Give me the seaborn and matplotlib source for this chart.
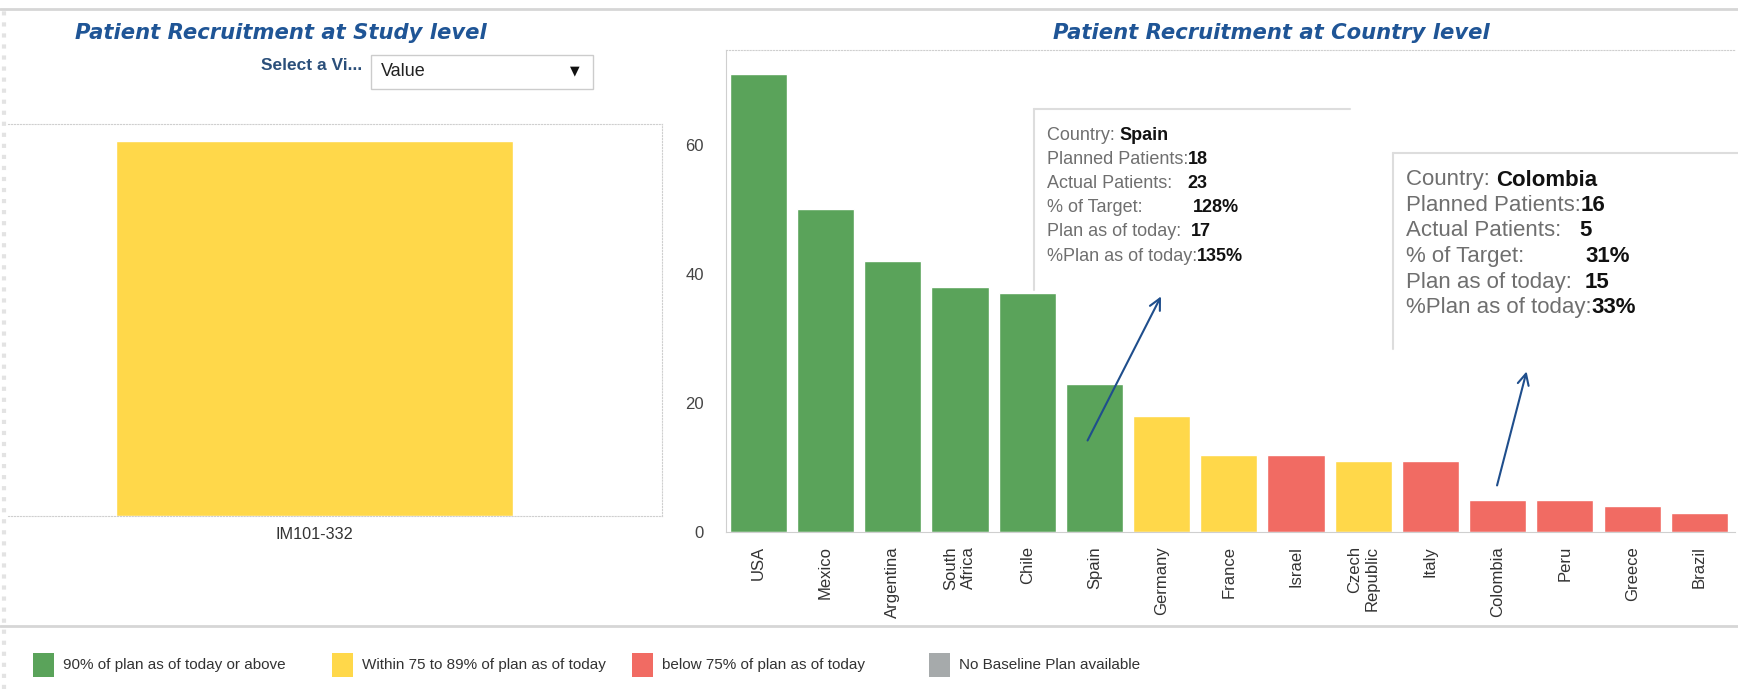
import matplotlib
matplotlib.use("Agg")
import matplotlib.pyplot as plt
from matplotlib.patches import Rectangle
from matplotlib.lines import Line2D
import seaborn as sns
import pandas as pd

# data
study_ids = ['IM101-332']
study_patients = [342]

countries = ['USA', 'Mexico', 'Argentina', 'South\nAfrica', 'Chile', 'Spain', 'Germany', 'France',
             'Israel', 'Czech\nRepublic', 'Italy', 'Colombia', 'Peru', 'Greece', 'Brazil']
actual_patients = [71, 50, 42, 38, 37, 23, 18, 12, 12, 11, 11, 5, 5, 4, 3]
country_status = [0, 0, 0, 0, 0, 0, 1, 1, 2, 1, 2, 2, 2, 2, 2]

legend_labels = ['90% of plan as of today or above', 'Within 75 to 89% of plan as of today',
                 'below 75% of plan as of today', 'No Baseline Plan available']
legend_colors = ['#5aa35a', '#ffd84a', '#f16b63', '#a6aaab']

tip_labels = ['Country: ', 'Planned Patients:', 'Actual Patients:   ', '% of Target:          ',
              'Plan as of today:  ', '%Plan as of today:']
spain_values = ['Spain', '18', '23', '128%', '17', '135%']
colombia_values = ['Colombia', '16', '5', '31%', '15', '33%']

W, H = 1738, 689
title_color = '#1f5596'
grid_grey = '#cfcfcf'


def px(x, y):
    return x / W, 1 - y / H


sns.set_style('white')
plt.rcParams['font.family'] = ['Liberation Sans', 'DejaVu Sans']

fig = plt.figure(figsize=(W / 100, H / 100), dpi=100)

# left panel: study level
ax1 = fig.add_axes([8 / W, 1 - 516 / H, 654 / W, 392 / H])
sns.barplot(x=study_ids, y=study_patients, color=legend_colors[1], width=0.607,
            saturation=1, ax=ax1)
ax1.set_xlim(-0.468, 0.532)
ax1.set_ylim(0, 357.5)
ax1.set_yticks([])
ax1.set_xlabel('')
ax1.set_ylabel('')
ax1.tick_params(axis='x', length=0, labelsize=11.7, colors='#333333', pad=8)
ax1.spines['left'].set_visible(False)
for s in ['top', 'bottom', 'right']:
    ax1.spines[s].set_linestyle(':')
    ax1.spines[s].set_color(grid_grey)

# right panel: country level
df = pd.DataFrame({'country': countries, 'actual': actual_patients,
                   'status': [legend_labels[i] for i in country_status]})
ax2 = fig.add_axes([726 / W, 1 - 532 / H, 1009 / W, 482 / H])
sns.barplot(data=df, x='country', y='actual', hue='status', order=countries,
            hue_order=legend_labels, palette=dict(zip(legend_labels, legend_colors)),
            dodge=False, width=0.85, saturation=1, legend=False, ax=ax2)
ax2.set_xlim(-0.48, 14.53)
ax2.set_ylim(0, 74.7)
ax2.set_yticks([0, 20, 40, 60])
ax2.set_xlabel('')
ax2.set_ylabel('')
ax2.set_xticks([i + 0.5 for i in range(len(countries) - 1)], minor=True)
ax2.tick_params(axis='x', which='major', length=0, pad=10)
ax2.tick_params(axis='x', which='minor', length=6, color=grid_grey, width=1)
ax2.tick_params(axis='y', length=6, color=grid_grey, labelsize=12, labelcolor='#444444', pad=10)
for lab in ax2.get_xticklabels():
    lab.set_rotation(90)
    lab.set_fontsize(12)
    lab.set_color('#333333')
    lab.set_va('top')
    lab.set_ha('center')
    lab.set_multialignment('right')
ax2.spines['right'].set_visible(False)
ax2.spines['top'].set_linestyle(':')
ax2.spines['top'].set_color(grid_grey)
ax2.spines['left'].set_color(grid_grey)
ax2.spines['bottom'].set_color(grid_grey)

# titles and the view selector
fig.text(*px(75, 33), 'Patient Recruitment at Study level', fontsize=15.2, fontweight='bold',
         fontstyle='italic', family='DejaVu Sans', color=title_color, va='center')
fig.text(*px(1271, 33), 'Patient Recruitment at Country level', fontsize=15.2, fontweight='bold',
         fontstyle='italic', family='DejaVu Sans', color=title_color, va='center', ha='center')
fig.text(*px(362, 66), 'Select a Vi...', fontsize=12.5, fontweight='bold', color='#2b4f7a',
         ha='right', va='center')
fig.add_artist(Rectangle(px(371, 89), 222 / W, 34 / H, transform=fig.transFigure,
                         facecolor='white', edgecolor='#cccccc', lw=1))
fig.text(*px(381, 72), 'Value', fontsize=13, color='#222222', va='center')
fig.text(*px(575, 71), '▼', fontsize=9, family='DejaVu Sans', color='#111111',
         va='center', ha='center')

# frame lines
fig.add_artist(Line2D([0, 1], [1 - 9 / H] * 2, color='#d6d6d6', lw=2, transform=fig.transFigure))
fig.add_artist(Line2D([0, 1], [1 - 626 / H] * 2, color='#d6d6d6', lw=2, transform=fig.transFigure))
fig.add_artist(Line2D([4 / W] * 2, [0, 1 - 9 / H], color='#e3e3e3', lw=3, ls=':',
                      transform=fig.transFigure))

# legend
for i, (lab, col) in enumerate(zip(legend_labels, legend_colors)):
    x0 = [33, 332, 632, 929][i]
    fig.add_artist(Rectangle(px(x0, 677), 21 / W, 24 / H, transform=fig.transFigure,
                             facecolor=col, edgecolor='none'))
    fig.text(*px(x0 + 30, 665), lab, fontsize=11, color='#333333', va='center')


# tooltips
def tooltip(x, y, w, h, values, size, dy):
    fig.add_artist(Line2D([x / W, (x + w) / W], [1 - y / H] * 2, color='#dddddd', lw=1.5,
                          transform=fig.transFigure))
    fig.add_artist(Line2D([x / W] * 2, [1 - y / H, 1 - (y + h) / H], color='#dddddd', lw=1.5,
                          transform=fig.transFigure))
    r = fig.canvas.get_renderer()
    for i, (lab, val) in enumerate(zip(tip_labels, values)):
        ty = y + 27 + i * dy
        t = fig.text(*px(x + 13, ty), lab, fontsize=size, color='#6f6f6f', va='center')
        wpx = t.get_window_extent(r).width
        fig.text(*px(x + 13 + wpx, ty), val, fontsize=size, fontweight='bold',
                 color='#111111', va='center')


tooltip(1034, 109, 316, 181, spain_values, 13, 24)
tooltip(1393, 153, 345, 196, colombia_values, 16, 25.5)

arrow = dict(arrowstyle='->,head_length=0.8,head_width=0.4', color='#1f4e8c', lw=1.5)
ax2.annotate('', xy=(6.01, 36.9), xytext=(4.88, 13.8), arrowprops=arrow)
ax2.annotate('', xy=(11.44, 25.3), xytext=(10.98, 6.8), arrowprops=arrow)

fig.savefig('out.png', dpi=100)
